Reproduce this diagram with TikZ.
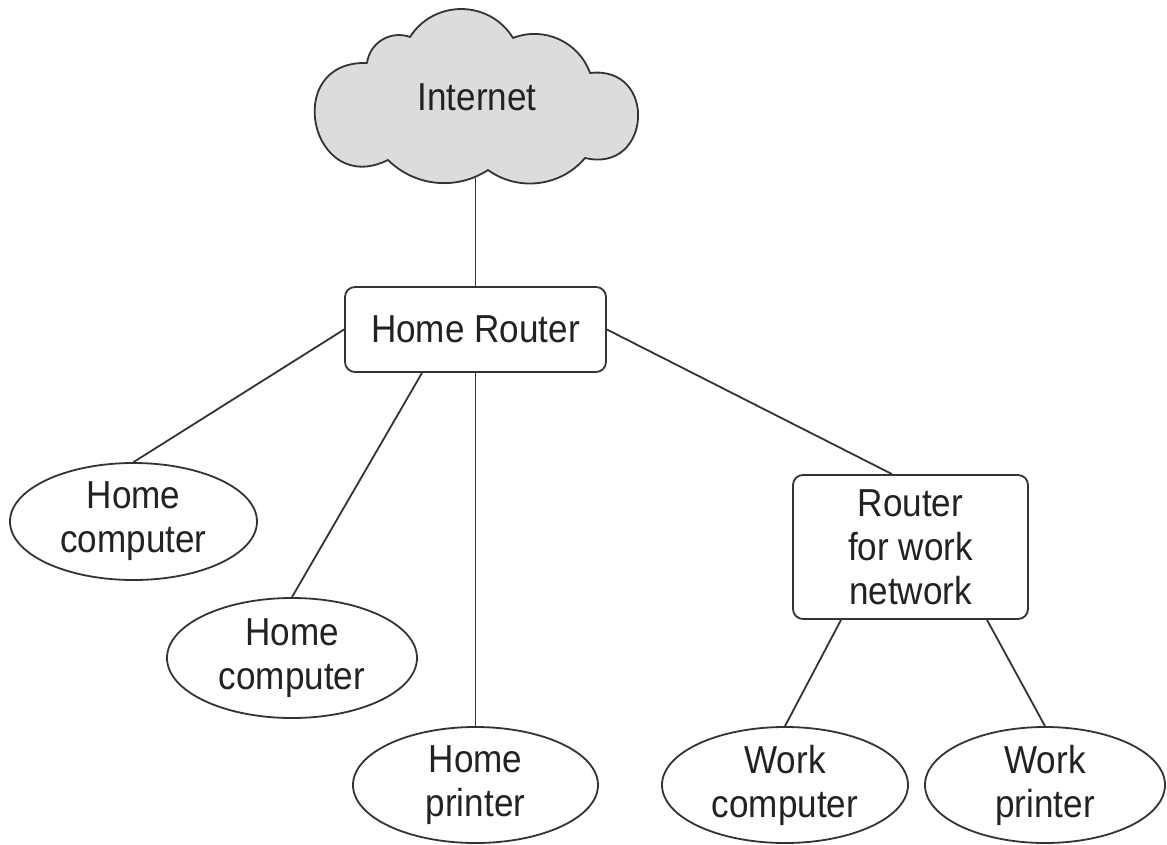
\documentclass[tikz,border=0pt]{standalone}
\usepackage{fontspec}
\setmainfont{Liberation Sans}[FakeStretch=0.9]
\usetikzlibrary{shapes.geometric}
\definecolor{ink}{HTML}{333333}
\definecolor{txt}{HTML}{222222}
\definecolor{cloudfill}{HTML}{DCDCDC}
\tikzset{
  base/.style={draw=ink, line width=1.8pt, text=txt, align=center, inner sep=0pt,
    font=\fontsize{39}{44}\selectfont},
  boxst/.style={base, rectangle, rounded corners=10pt},
  ellst/.style={base, ellipse},
  wire/.style={draw=ink, line width=1.8pt},
  cloudst/.style={draw=ink, line width=1.8pt, fill=cloudfill, line join=round},
}
\begin{document}
\begin{tikzpicture}[x=1pt, y=-1pt]
\useasboundingbox (0,0) rectangle (1167,845);
% cloud
\draw[cloudst] (410,37) to[bend left=58, looseness=1.11] (513,38)
  to[bend left=46, looseness=1.0] (590,73)
  to[bend left=100, looseness=2.06] (585,158)
  to[bend left=43, looseness=0.98] (488,170)
  to[bend left=39, looseness=0.96] (388,160)
  to[bend left=104, looseness=2.23] (367,63)
  to[bend left=51, looseness=1.05] (410,37) -- cycle;
\node[text=txt, font=\fontsize{39}{44}\selectfont] (inet) at (477,97) {Internet};
\coordinate (cb) at (475.5,178);
% nodes
\node[boxst, minimum width=261pt, minimum height=85pt] (hr) at (475.5,329.5) {Home Router};
\node[boxst, minimum width=235pt, minimum height=144pt] (rw) at (910.5,547) {Router\\for work\\network};
\node[ellst, minimum width=247pt, minimum height=117pt] (hc1) at (133.5,521.5) {Home\\computer};
\node[ellst, minimum width=250pt, minimum height=120pt] (hc2) at (292,658) {Home\\computer};
\node[ellst, minimum width=245pt, minimum height=116pt] (hp) at (475.5,785) {Home\\printer};
\node[ellst, minimum width=246pt, minimum height=116pt] (wc) at (785,785) {Work\\computer};
\node[ellst, minimum width=240pt, minimum height=116pt] (wp) at (1045,785) {Work\\printer};
% connectors
\draw[wire] (cb) -- (hr.north);
\draw[wire] (hr.west) -- (hc1.north);
\draw[wire] ([xshift=-53.5pt]hr.south) -- (hc2.north);
\draw[wire] (hr.south) -- (hp.north);
\draw[wire] (hr.east) -- ([xshift=-18.5pt]rw.north);
\draw[wire] ([xshift=-69.5pt]rw.south) -- (wc.north);
\draw[wire] ([xshift=76.5pt]rw.south) -- (wp.north);
\end{tikzpicture}
\end{document}
